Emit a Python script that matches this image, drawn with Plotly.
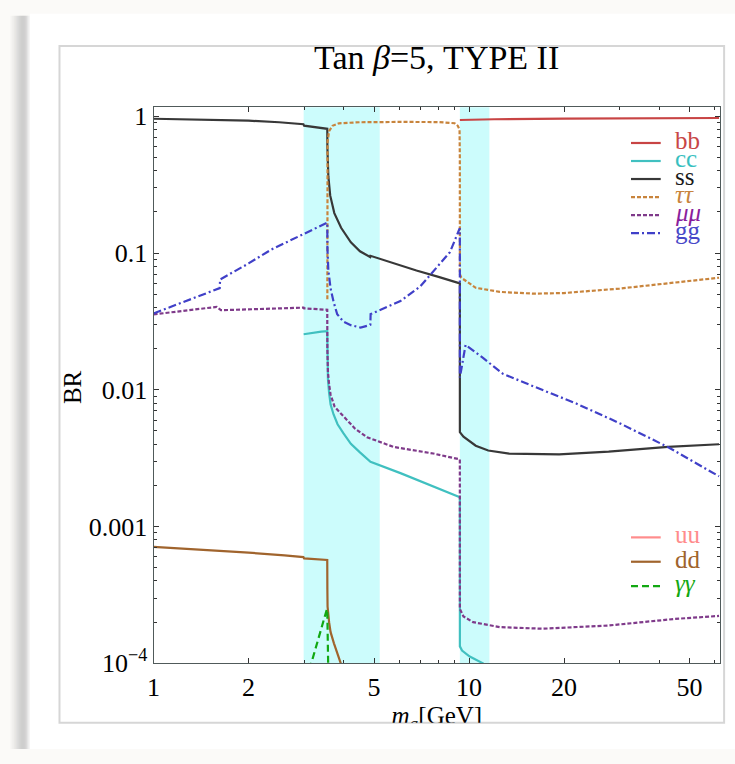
import numpy as np
import plotly.graph_objects as go

W, H = 735, 764
PL, PR, PT, PB = 148, 720, 105, 676

def fx(p):
    return p / W

def fy(p):
    return 1 - p / H

# ---------------- data ----------------
bb_x = [9.352, 10.0, 12.0, 20.0, 35.0, 62.0]
bb_y = [0.94, 0.945, 0.952, 0.962, 0.968, 0.972]

cc_x = [2.99, 3.2, 3.4, 3.552, 3.555, 3.57, 3.6, 3.64, 3.72, 3.83, 4.0, 4.22, 4.5, 4.87,
        6.06, 7.7, 9.3, 9.349, 9.352, 9.5, 10.05, 10.6, 11.07, 11.4]
cc_y = [0.0255, 0.0262, 0.0266, 0.0268, 0.016, 0.012, 0.0095, 0.0078, 0.0066, 0.0056, 0.0048,
        0.00403, 0.0035, 0.00298, 0.00246, 0.00198, 0.00166, 0.00164, 0.000133, 0.000124,
        0.000112, 0.000105, 0.0001, 0.000093]

ss_x = [1.0, 1.5, 2.0, 2.5, 2.985, 3.0, 3.3, 3.553, 3.555, 3.56, 3.58, 3.63, 3.74, 3.93, 4.22,
        4.51, 4.86, 4.87, 5.5, 6.81, 8.0, 9.349, 9.352, 9.6, 10.5, 11.5, 13.4, 19.3, 27.7, 42.7, 62.0]
ss_y = [0.96, 0.945, 0.93, 0.905, 0.875, 0.855, 0.835, 0.81, 0.6, 0.48, 0.365, 0.263, 0.196,
        0.153, 0.12, 0.103, 0.0935, 0.0955, 0.087, 0.0745, 0.067, 0.060, 0.0049, 0.00455,
        0.0039, 0.0036, 0.00342, 0.00337, 0.00353, 0.00383, 0.0040]

tt_x = [3.5545, 3.555, 3.56, 3.6, 3.69, 3.87, 4.5, 6.0, 8.0, 9.0, 9.2, 9.33, 9.349, 9.352,
        9.45, 10.5, 12.5, 16.0, 20.0, 30.0, 45.0, 62.0]
tt_y = [0.046, 0.4, 0.65, 0.78, 0.852, 0.889, 0.905, 0.91, 0.908, 0.89, 0.855, 0.80, 0.5,
        0.07, 0.066, 0.0557, 0.052, 0.0505, 0.051, 0.055, 0.061, 0.066]

mm_x = [1.0, 1.3, 1.585, 1.635, 2.0, 2.5, 2.99, 3.0, 3.3, 3.552, 3.555, 3.57, 3.6, 3.64, 3.75,
        4.02, 4.35, 4.75, 5.77, 7.7, 9.24, 9.349, 9.352, 9.6, 10.3, 12.5, 17.1, 27.7, 44.8, 62.0]
mm_y = [0.0356, 0.038, 0.0404, 0.0382, 0.0387, 0.0395, 0.0399, 0.0394, 0.039, 0.0385, 0.02,
        0.0135, 0.011, 0.0092, 0.0075, 0.00627, 0.0052, 0.0045, 0.00382, 0.00342, 0.00315,
        0.0031, 0.00025, 0.00022, 0.0002, 0.000184, 0.000179, 0.000189, 0.000211, 0.000222]

gg_x = [1.0, 1.3, 1.62, 1.625, 2.0, 2.36, 2.8, 3.2, 3.47, 3.553, 3.556, 3.58, 3.64, 3.72, 3.82,
        4.0, 4.22, 4.53, 4.84, 4.865, 4.875, 5.3, 6.06, 7.0, 7.7, 8.7, 9.3, 9.349, 9.352, 9.75,
        11.07, 12.8, 16.0, 21.7, 30.0, 42.8, 62.0]
gg_y = [0.0362, 0.0457, 0.0554, 0.0641, 0.084, 0.106, 0.128, 0.149, 0.1636, 0.167, 0.11, 0.075,
        0.055, 0.044, 0.0357, 0.0315, 0.0297, 0.0285, 0.0297, 0.0299, 0.0358, 0.039, 0.0446,
        0.057, 0.073, 0.1016, 0.148, 0.152, 0.0123, 0.0213, 0.0171, 0.0131, 0.0106, 0.0080,
        0.0057, 0.0038, 0.00233]

uu_x = []
uu_y = []

dd_x = [1.0, 1.5, 2.0, 2.6, 2.985, 3.0, 3.3, 3.552, 3.555, 3.56, 3.6, 3.64, 3.73, 3.83, 3.95]
dd_y = [0.00071, 0.000675, 0.000645, 0.000615, 0.000598, 0.000585, 0.000578, 0.00057, 0.00035,
        0.00026, 0.0002, 0.000169, 0.00014, 0.000115, 0.000095]

aa_x = [3.12, 3.545, 3.553, 3.577]
aa_y = [0.00009, 0.00025, 0.00024, 0.000095]

bands = [(2.99, 5.21), (9.35, 11.6)]

x_ticks = [1, 2, 5, 10, 20, 50]
x_minor = [3, 4, 6, 7, 8, 9, 30, 40, 60]
y_ticks = [1e-4, 1e-3, 1e-2, 1e-1, 1]
y_ticktext = ["10<sup>\u22124</sup>", "0.001", "0.01", "0.1", "1"]
y_minor = [k * 10.0 ** e for e in range(-4, 0) for k in range(2, 10)]

# ---------------- styles ----------------
FONT = "Liberation Serif"
series = [
    ("bb", bb_x, bb_y, "#c84444", "solid", "bb", "#c84646"),
    ("cc", cc_x, cc_y, "#40c0c0", "solid", "cc", "#38c0c0"),
    ("ss", ss_x, ss_y, "#383838", "solid", "ss", "#1a1a1a"),
    ("tt", tt_x, tt_y, "#c8843c", "4px,2px", "<i>\u03c4\u03c4</i>", "#c8843c"),
    ("mm", mm_x, mm_y, "#7f3a8a", "4px,2px", "<i>\u03bc\u03bc</i>", "#8a1e9c"),
    ("gg", gg_x, gg_y, "#4040c8", "8px,3px,2px,3px", "gg", "#4848c8"),
    ("uu", uu_x, uu_y, "#ff8c8c", "solid", "uu", "#ff8c8c"),
    ("dd", dd_x, dd_y, "#a0642d", "solid", "dd", "#a0642d"),
    ("aa", aa_x, aa_y, "#12a812", "7px,4px", "<i>\u03b3\u03b3</i>", "#12a812"),
]

fig = go.Figure()
for name, xs, ys, col, dash, _, _ in series:
    fig.add_trace(go.Scatter(x=xs, y=ys, mode="lines", name=name,
                             line=dict(color=col, width=2.2, dash=dash),
                             xaxis="x", yaxis="y", showlegend=False, hoverinfo="skip"))

# clipped x-axis title (as in the reference, cut by the frame)
fig.add_trace(go.Scatter(x=[434], y=[732], mode="text",
                         text=["<i>m</i><sub><i>a</i></sub>[GeV]"],
                         textfont=dict(family=FONT, size=25, color="black"),
                         textposition="middle center", cliponaxis=True,
                         xaxis="x2", yaxis="y2", showlegend=False, hoverinfo="skip"))

shapes = []
# page background / panel / shadow
shapes.append(dict(type="rect", xref="paper", yref="paper", x0=fx(23), x1=1, y0=0, y1=fy(9),
                   fillcolor="white", line=dict(width=0), layer="below"))
shadow = ["#f8f7f5", "#f5f4f2", "#f2f1ef", "#eeedeb", "#eae9e7", "#e5e4e2", "#e0dfde",
          "#dbdad9", "#d6d6d5", "#d1d1d1", "#cdcdcd", "#cacaca", "#c8c8c8", "#c7c7c7",
          "#c8c8c8", "#cbcbcb", "#d2d2d2", "#dcdcdc", "#e8e8e8", "#f2f2f2"]
for i, c in enumerate(shadow):
    shapes.append(dict(type="rect", xref="paper", yref="paper", x0=fx(3 + i), x1=fx(4 + i),
                       y0=0, y1=fy(11), fillcolor=c, line=dict(width=0), layer="below"))
# frame box
shapes.append(dict(type="rect", xref="paper", yref="paper", x0=fx(53), x1=fx(724),
                   y0=fy(737), y1=fy(42), fillcolor="rgba(0,0,0,0)",
                   line=dict(color="#d6d6d6", width=2), layer="below"))
# cyan bands
for a, b in bands:
    shapes.append(dict(type="rect", xref="x", yref="y domain", x0=a, x1=b, y0=0, y1=1,
                       fillcolor="#ccfcfc", line=dict(width=0), layer="below"))

annotations = []
# legends
top_rows = [141.7, 160.2, 178.7, 197.2, 215.7, 234.2]
bot_rows = [546.7, 571.7, 596.7]
rows = top_rows + bot_rows
for (name, xs, ys, col, dash, label, tcol), yy in zip(series, rows):
    shapes.append(dict(type="line", xref="paper", yref="paper", x0=fx(630), x1=fx(660),
                       y0=fy(yy), y1=fy(yy), line=dict(color=col, width=2.2, dash=dash)))
    annotations.append(dict(xref="paper", yref="paper", x=fx(672), y=fy(yy - 2.6),
                            xanchor="left", yanchor="middle", showarrow=False, text=label,
                            font=dict(family=FONT, size=25, color=tcol)))

# title
annotations.append(dict(xref="paper", yref="paper", x=fx(434), y=fy(54), xanchor="center",
                        yanchor="middle", showarrow=False,
                        text="Tan <i>\u03b2</i>=5, TYPE II",
                        font=dict(family=FONT, size=34, color="black")))
# y title
annotations.append(dict(xref="paper", yref="paper", x=fx(66), y=fy(392), xanchor="center",
                        yanchor="middle", showarrow=False, text="BR", textangle=-90,
                        font=dict(family=FONT, size=25, color="black")))

axis_common = dict(showgrid=False, zeroline=False, showline=True, linecolor="#505a5a",
                   linewidth=1.3, mirror="allticks", ticks="inside", ticklen=5,
                   tickwidth=1, tickcolor="#333", tickfont=dict(family=FONT, size=26, color="black"))

fig.update_layout(
    width=W, height=H,
    margin=dict(l=0, r=0, t=0, b=0),
    paper_bgcolor="#fbfaf8",
    plot_bgcolor="rgba(0,0,0,0)",
    showlegend=False,
    xaxis=dict(type="log", range=[0, np.log10(62.5)], domain=[fx(PL), fx(PR)], anchor="y",
               tickmode="array", tickvals=x_ticks, ticktext=[str(v) for v in x_ticks],
               minor=dict(tickmode="array", tickvals=x_minor, ticks="inside", ticklen=3,
                          tickcolor="#333", tickwidth=1),
               **axis_common),
    yaxis=dict(type="log", range=[-4, np.log10(1.165)], domain=[fy(PB), fy(PT)], anchor="x",
               tickmode="array", tickvals=y_ticks, ticktext=y_ticktext,
               minor=dict(tickmode="array", tickvals=y_minor, ticks="inside", ticklen=3,
                          tickcolor="#333", tickwidth=1),
               **axis_common),
    xaxis2=dict(domain=[fx(300), fx(580)], range=[300, 580], visible=False, anchor="y2",
                fixedrange=True),
    yaxis2=dict(domain=[fy(737), fy(700)], range=[737, 700], visible=False, anchor="x2",
                fixedrange=True),
    shapes=shapes,
    annotations=annotations,
)

fig.write_html("out.html")
